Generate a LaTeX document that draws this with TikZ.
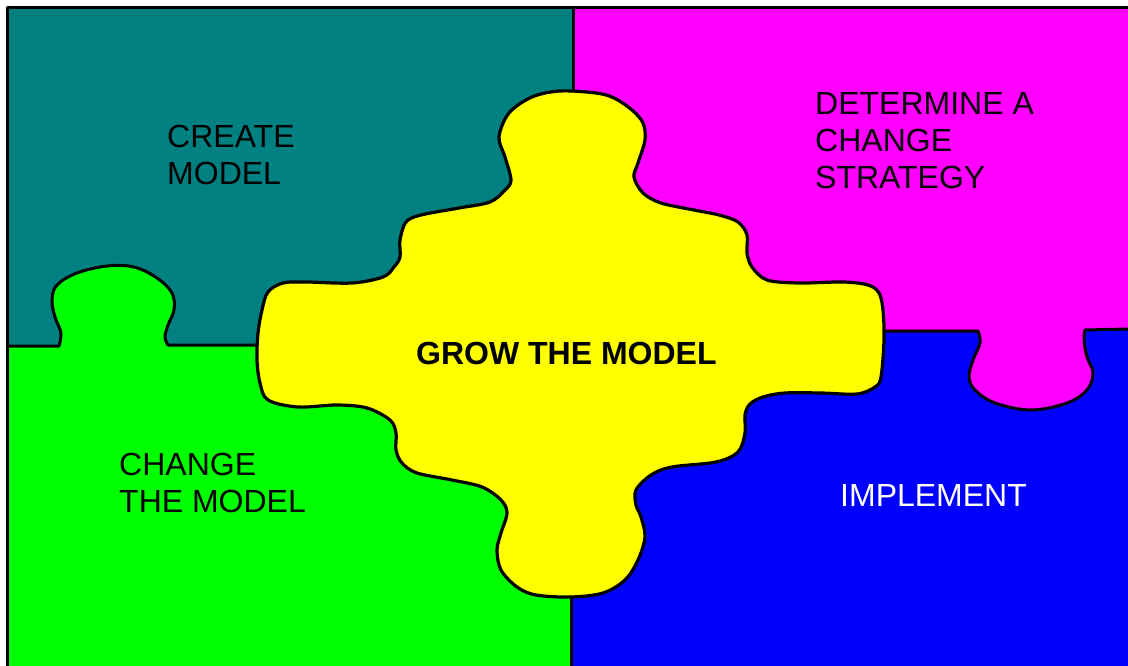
\documentclass[tikz,border=0pt]{standalone}
\usepackage{fontspec}
\setmainfont{Liberation Sans}
\definecolor{pteal}{RGB}{0,128,128}
\definecolor{pmagenta}{RGB}{255,0,255}
\definecolor{pgreen}{RGB}{0,255,0}
\definecolor{pblue}{RGB}{0,0,255}
\definecolor{pyellow}{RGB}{255,255,0}

\begin{document}
\begin{tikzpicture}[
    x=1pt, y=-1pt,
    border/.style={draw=black, line width=3pt, line join=round},
    piece/.style={draw=black, line width=3.2pt, line join=round},
    label/.style={
        anchor=north west,
        inner sep=0pt,
        align=left,
        font=\fontsize{32}{37}\selectfont
    }
]
    \useasboundingbox (0,0) rectangle (1128,666);

    % --- QUARTER PIECES ---
    \fill[pteal] (7,8) rectangle (573,346);
    \fill[pblue] (571,330) rectangle (1128,666);
    \fill[pgreen] (7,346) -- (59,346)
        -- plot[smooth, tension=0.6] coordinates {(59,346) (61,333) (55,317) (52,300) (57,285) (77,273) (107,266) (134,267) (157,278) (172,293) (174,310) (168,325) (165,337) (168,345)}
        -- (571,346) -- (571,666) -- (7,666) -- cycle;
    \fill[pmagenta] (573,8) -- (1128,8) -- (1128,329) -- (1085,330)
        -- plot[smooth, tension=0.6] coordinates {(1085,330) (1084,340) (1087,357) (1093,373) (1087,390) (1067,403) (1031,410) (995,403) (975,390) (969,377) (973,360) (980,343) (978,331)}
        -- (573,331) -- cycle;

    % --- SEAMS ---
    \draw[border] (7,666) -- (7,8) -- (1128,8);
    \draw[border] (573,8) -- (573,150);
    \draw[border] (571,560) -- (571,666);
    \draw[border] (7,346) -- (59,346)
        -- plot[smooth, tension=0.6] coordinates {(59,346) (61,333) (55,317) (52,300) (57,285) (77,273) (107,266) (134,267) (157,278) (172,293) (174,310) (168,325) (165,337) (168,345)}
        -- (300,345);
    \draw[border] (840,331) -- (978,331)
        -- plot[smooth, tension=0.6] coordinates {(978,331) (980,343) (973,360) (969,377) (975,390) (995,403) (1031,410) (1067,403) (1087,390) (1093,373) (1087,357) (1084,340) (1085,330)}
        -- (1128,329);

    % --- CENTRAL PIECE ---
    \filldraw[piece, fill=pyellow] plot[smooth cycle, tension=0.55] coordinates {
        (560,91) (596,93) (614,98) (632,110) (643,123) (645,140) (638,163) (634,177)
        (643,193) (661,203) (694,210) (719,215) (738,222) (747,235) (747,253) (752,267)
        (767,280) (799,283) (843,282) (868,285) (879,293) (883,310) (884,340) (881,377)
        (875,387) (857,394) (821,393) (785,393) (763,397) (750,404) (745,415) (745,433)
        (738,452) (716,462) (672,467) (651,475) (636,490) (636,505) (641,517) (645,537)
        (638,560) (625,580) (603,593) (571,597) (536,595) (517,587) (501,570) (497,550)
        (501,533) (507,513) (501,500) (482,487) (452,480) (417,473) (402,463) (396,450)
        (396,433) (390,420) (367,408) (337,405) (298,407) (268,400) (260,383) (257,360)
        (258,333) (262,310) (268,292) (283,283) (306,282) (352,283) (383,277) (394,267)
        (400,257) (400,240) (406,222) (421,215) (459,208) (490,202) (505,190) (511,180)
        (505,157) (499,137) (509,113) (532,97)};

    % --- LABELS ---
    \node[label] (create) at (167,125) {CREATE\\MODEL};
    \node[label] (strategy) at (815,92) {DETERMINE A\\CHANGE\\STRATEGY};
    \node[label] (change) at (119,453) {CHANGE\\THE MODEL};
    \node[label, text=white] (implement) at (840,484) {IMPLEMENT};
    \node[label, font=\fontsize{32}{37}\selectfont\bfseries] (grow) at (416,342) {GROW THE MODEL};

\end{tikzpicture}
\end{document}
